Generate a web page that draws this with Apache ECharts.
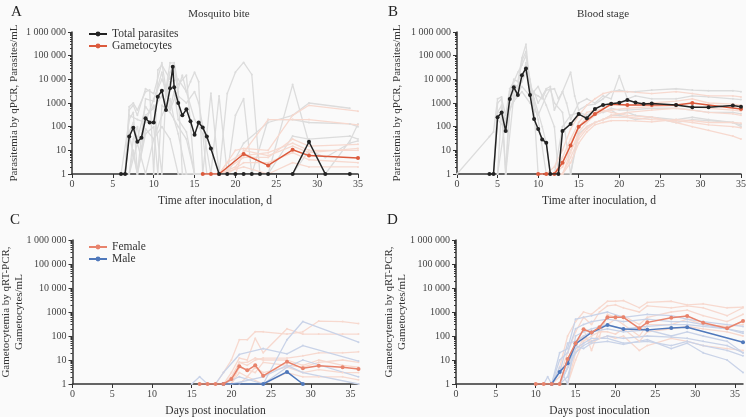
<!DOCTYPE html>
<html lang="en">
<head>
<meta charset="UTF-8">
<title>Parasitemia and gametocytemia</title>
<script src="https://cdn.jsdelivr.net/npm/echarts@6/dist/echarts.min.js"></script>
<style>
  html, body { margin:0; padding:0; background:#fafafa; }
  #chart { width:746px; height:417px; }
</style>
</head>
<body>
<div id="chart"></div>
<script>
// ---- panel A: mosquito bite ----
var aTotDays = [6,6.5,7,7.5,8,8.5,9,9.5,10,10.5,11,11.5,12,12.33,12.5,13,13.5,14,14.5,15,15.5,16,16.5,17,18,19,20,21,22,23,24,27,29,31,34];
var aTotVals = [1,1,38,90,23,34,225,150,150,1850,3300,500,4200,34000,4600,1000,300,540,170,45,150,93,38,12,1,1,1,1,1,1,1,1,23,1,1];
var aGamDays = [16,17,18,21,24,27,29,35];
var aGamVals = [1,1,1,7,2.3,10.5,6,4.8];
var aGrayLines = [
  [[6.5,1],[7,500],[7.5,800],[8,300],[9,4000],[10,2500],[11,50000],[11.5,4000],[12,50000],[12.5,50000],[13,6000],[14,15000],[15,1],[16,1]],
  [[6.5,1],[7,700],[7.5,1000],[8,500],[9,3000],[9.5,3500],[10,1],[10.5,25000],[11,40000],[12,10000],[12.5,30000],[13,3000],[13.5,1],[14,1]],
  [[6,1],[7,200],[7.5,400],[8,1],[9,1500],[10,1200],[10.5,5000],[11,20000],[11.5,2000],[12,8000],[13,10000],[14,3000],[14.5,8000],[15,20000],[15.5,8000],[16,1],[17,2600],[18,1],[19,2500],[20,20000],[21,52000],[22,16000],[23,1],[24,1]],
  [[6.5,1],[7,60],[7.5,150],[8,30],[9,700],[9.5,400],[10,800],[11,1],[11.5,3000],[12,20000],[12.5,40000],[13,2000],[14,1000],[15,3000],[15.5,1000],[16,100],[17,1],[19,1],[20,300],[21,1500],[22,1],[24,1],[27,6000],[29,20],[31,1],[34,1]],
  [[7,1],[7.5,30],[8,100],[8.5,10],[9,300],[10,600],[11,2000],[12,500],[13,4000],[13.5,15000],[14,3000],[15,200],[16,50],[16.5,1],[17,1]],
  [[6.5,1],[7,300],[8,200],[9,150],[10,1500],[11,10000],[11.5,4000],[12,600],[12.5,3000],[13,200],[14,60],[15,1],[17,1],[18,2000],[19,1],[22,1],[24,200],[27,200],[29,150],[34,130],[35,100]],
  [[6.5,1],[7,50],[8,1],[9,50],[10,100],[10.5,1],[11,800],[12,400],[13,100],[14,30],[15,1],[19,1],[21,20],[24,150],[27,300],[29,1000],[34,600]],
  [[7,1],[8,20],[9,1],[10,30],[11,300],[12,1500],[12.5,200],[13,50],[14,1],[24,1],[27,40],[29,30],[34,40],[35,30]],
  [[7,1],[7.5,10],[8,1],[9,80],[10,30],[11,100],[12,30],[13,1],[27,1],[29,10],[31,5],[34,20],[35,25]],
  [[31,1],[34,25],[35,130]]
];
var aPinkLines = [
  [[18,1],[19,3],[21,8],[24,200],[27,200],[29,200],[35,120]],
  [[18,1],[20,10],[21,12],[24,10],[27,300],[29,800],[35,450]],
  [[18,1],[21,5],[24,5],[27,30],[29,15],[35,18]],
  [[19,1],[21,3],[24,3],[27,8],[29,4],[35,3]],
  [[18,1],[20,2],[21,6],[24,8],[27,20],[29,10],[35,10]],
  [[18,1],[21,2],[24,1],[27,3],[29,2],[35,2]],
  [[20,1],[21,10],[24,6],[27,15],[29,8],[35,12]]
];

// ---- panel B: blood stage ----
var bTotDays = [4,4.5,5,5.5,6,6.5,7,7.5,8,8.5,9,9.5,10,10.5,11,11.5,12.5,13,14,15,16,17,18,19,20,21,22,23,24,27,29,31,34,35];
var bTotVals = [1,1,250,400,65,1480,4600,2200,15000,29000,2200,210,80,29,21,1,1,65,130,340,225,560,830,930,1030,1340,1050,900,950,830,660,660,780,700];
var bGamDays = [10,11,12,13,14,15,17,19,21,24,27,29,35];
var bGamVals = [1,1,1,3,16,100,340,900,830,830,830,1000,560];
var bGrayLines = [
  [[0,1],[4,38],[4.5,60],[5,1500],[5.5,1800],[6,1],[6.5,2000],[7,10000],[7.5,8000],[8,80000],[8.5,300000],[9,5000],[9.5,500],[10,1],[10.5,1]],
  [[4.5,1],[5,1000],[5.5,1500],[6,300],[6.5,4000],[7,8000],[7.5,20000],[8,40000],[8.5,100000],[9,10000],[9.5,1000],[10,200],[11,1]],
  [[4.5,1],[5,400],[5.5,800],[6,150],[6.5,3000],[7,6000],[7.5,5000],[8,60000],[8.5,150000],[9,4000],[9.5,3000],[10,1000],[11,4000],[11.5,5000],[12,500],[13,3000],[14,20000],[14.5,2000],[15,500],[16,800],[17,900],[18,1500],[19,3000],[20,3500],[21,3000],[22,3000],[24,3500],[27,4000],[29,3500],[31,3300],[34,3300],[35,3000]],
  [[4.5,1],[5,200],[6,80],[6.5,1000],[7,3000],[8,10000],[8.5,50000],[9,3000],[10,2000],[10.5,1500],[11,3500],[12,4000],[12.5,1500],[13,3000],[13.5,1000],[14,200],[15,1000],[16,1500],[17,1000],[18,2000],[19,1500],[20,14000],[21,1500],[22,2000],[24,1500],[27,1500],[29,2000],[31,1800],[34,1500],[35,1400]],
  [[5,1],[5.5,600],[6,1],[7,2000],[8,8000],[8.5,20000],[9,8000],[9.5,1500],[10,400],[10.5,100],[11,20],[11.5,1],[12,1],[13,100],[14,300],[15,400],[16,300],[17,500],[18,400],[19,500],[20,300],[21,400],[22,300],[24,250],[27,200],[29,250],[31,200],[34,150],[35,120]],
  [[5,1],[6,200],[7,1500],[8,5000],[9,2000],[10,5000],[10.5,2000],[11,800],[12,100],[12.5,1],[14,1],[15,50],[16,100],[17,150],[18,200],[19,300],[20,300],[21,250],[22,200],[24,250],[27,150],[29,200],[31,180],[34,150],[35,100]],
  [[6,1],[6.5,500],[7,1200],[8,3000],[9,1000],[10,300],[11,2000],[11.5,4000],[12,1000],[13,400],[14,1],[15,100],[17,300],[19,600],[20,500],[21,500],[24,600],[27,600],[29,500],[31,400],[34,400],[35,350]]
];
var bPinkLines = [
  [[11,1],[12,2],[13,10],[14,80],[15,300],[16,800],[17,1500],[18,2500],[19,3000],[21,3000],[24,2500],[27,3000],[29,2500],[31,2000],[34,2000],[35,1800]],
  [[11,1],[12,1],[13,3],[14,20],[15,100],[16,250],[17,400],[18,600],[19,800],[21,800],[24,1000],[27,1200],[29,1500],[31,1000],[34,900],[35,800]],
  [[12,1],[13,2],[14,10],[15,40],[16,100],[17,150],[18,200],[19,250],[21,250],[24,200],[27,180],[29,150],[31,120],[34,100],[35,90]],
  [[12,1],[13,5],[14,30],[15,150],[16,400],[17,500],[18,500],[19,400],[21,300],[24,250],[27,150],[29,100],[31,70],[34,40],[35,30]],
  [[11,1],[13,1],[14,5],[15,30],[16,80],[17,150],[18,200],[19,300],[21,400],[24,500],[27,600],[29,500],[31,400],[34,350],[35,300]],
  [[12,1],[13,1],[14,8],[15,60],[16,150],[17,300],[18,450],[19,500],[21,600],[24,700],[27,800],[29,700],[31,600],[34,500],[35,450]],
  [[12,1],[13,1],[14,3],[15,20],[16,60],[17,120],[18,150],[19,180],[21,180],[24,160],[27,200],[29,180],[31,150],[34,150],[35,140]]
];

// ---- panel C: gametocytes after mosquito bite ----
var cFemDays = [16,17,18,19,20,21,22,23,24,27,29,31,34,36];
var cFemVals = [1,1,1,1,1.6,5.5,3.7,6,2.2,8.5,4.5,5.8,5,4.2];
var cMaleDays = [19,24,27,29];
var cMaleVals = [1,1,3.2,1];
var cPinkLines = [
  [[18,1],[19,3],[20,10],[21,70],[22,70],[23,150],[24,150],[27,120],[29,150],[31,420],[34,400],[36,330]],
  [[19,1],[20,3],[21,12],[22,10],[23,80],[24,20],[27,200],[29,120],[31,120],[34,120],[36,120]],
  [[19,1],[20,2],[21,8],[22,6],[23,10],[24,12],[27,12],[29,15],[31,20],[34,20],[36,22]],
  [[19,1],[20,1],[21,5],[22,4],[23,3],[24,8],[27,6],[29,5],[31,8],[34,10],[36,8]],
  [[20,1],[21,3],[22,2],[23,5],[24,3],[27,5],[29,3],[31,4],[34,3],[36,3]],
  [[20,1],[21,8],[22,8],[23,12],[24,10],[27,10],[29,6],[31,10],[34,6],[36,5]],
  [[21,1],[22,2],[24,1],[27,3],[29,2],[31,2],[34,2],[36,1.5]]
];
var cBlueLines = [
  [[15,1],[16,2],[17,1]],
  [[18,1],[19,3],[21,17],[24,30],[27,18],[29,40],[36,9]],
  [[24,1],[27,70],[29,400],[36,55]],
  [[19,1],[21,2],[24,1],[27,5],[29,10],[36,2]],
  [[20,1],[24,2],[27,6],[29,3],[36,1]]
];

// ---- panel D: gametocytes after blood stage ----
var dFemDays = [10,11,12,13,14,15,16,17,18,19,20,21,23,24,27,29,31,34,36];
var dFemVals = [1,1,1,1,11,50,190,140,230,600,600,600,210,370,580,680,360,210,420];
var dMaleDays = [12,13,14,15,17,19,21,24,27,29,36];
var dMaleVals = [1,3.2,7.3,47,140,290,195,180,215,230,55];
var dPinkLines = [
  [[12,1],[13,5],[14,100],[15,400],[16,1000],[17,800],[18,1500],[19,2800],[20,2800],[21,3000],[23,1500],[24,2500],[27,2800],[29,2000],[31,2200],[34,1500],[36,1600]],
  [[12,1],[13,2],[14,20],[15,150],[16,600],[17,300],[18,1000],[19,1800],[20,2000],[21,1500],[23,1000],[24,1800],[27,1500],[29,1800],[31,1500],[34,700],[36,1500]],
  [[13,1],[14,5],[15,50],[16,100],[17,50],[18,80],[19,100],[20,80],[21,100],[23,25],[24,40],[27,80],[29,60],[31,40],[34,30],[36,25]],
  [[13,1],[14,10],[15,40],[16,200],[17,25],[18,200],[19,300],[20,500],[21,300],[23,100],[24,300],[27,300],[29,500],[31,300],[34,250],[36,300]],
  [[14,1],[15,10],[16,60],[17,100],[18,150],[19,150],[20,120],[21,200],[23,60],[24,150],[27,200],[29,250],[31,200],[34,150],[36,100]],
  [[14,1],[15,20],[16,80],[17,60],[18,100],[19,800],[20,600],[21,700],[23,300],[24,600],[27,1000],[29,1200],[31,700],[34,400],[36,800]]
];
var dBlueLines = [
  [[11,1],[11.5,2],[12,1],[13,20],[14,30],[15,500],[16,600],[17,700],[19,1000],[21,600],[24,800],[27,700],[29,500],[31,400],[34,300],[36,250]],
  [[12,1],[13,10],[14,20],[15,200],[16,300],[17,400],[19,500],[21,400],[24,500],[27,400],[29,400],[31,300],[34,200],[36,150]],
  [[12,1],[13,5],[14,1],[15,100],[16,150],[17,200],[19,300],[21,200],[24,250],[27,300],[29,300],[31,250],[34,200],[36,130]],
  [[13,1],[14,2],[15,30],[16,50],[17,80],[19,80],[21,50],[24,60],[27,40],[29,60],[31,40],[34,25],[36,15]],
  [[13,1],[14,5],[15,40],[16,30],[17,50],[19,60],[21,45],[24,70],[27,30],[29,50],[31,20],[34,10],[36,3]],
  [[12,1],[13,3],[14,50],[15,60],[16,100],[17,150],[19,200],[21,150],[24,180],[27,100],[29,150],[31,100],[34,60],[36,20]],
  [[13,1],[15,20],[16,40],[17,60],[19,100],[21,80],[24,100],[27,90],[29,80],[31,60],[34,40],[36,20]]
];

var FONT = '"Liberation Serif", "DejaVu Serif", serif';
var GRAY = '#dcdcdc', PINK = '#f7d9cf', LBLUE = '#c9d3e8';
var BLACK = '#222222', RED = '#dc5a3c', FEM = '#e8836c', MALE = '#4f78bb';

function zip(d, v) { return d.map(function (x, i) { return [x, v[i]]; }); }

function yLabel(v) {
  if (v < 10000) return String(v);
  return String(v).replace(/\B(?=(\d{3})+(?!\d))/g, ' ');
}

function bg(lines, color, idx) {
  return lines.map(function (pts) {
    return {
      type: 'line', xAxisIndex: idx, yAxisIndex: idx, data: pts,
      symbol: 'circle', symbolSize: 2, silent: true, z: 1,
      itemStyle: { color: color },
      lineStyle: { color: color, width: 1.3 }
    };
  });
}

function main(name, d, v, color, idx, z) {
  return {
    name: name, type: 'line', xAxisIndex: idx, yAxisIndex: idx,
    data: zip(d, v), symbol: 'circle', symbolSize: 4, z: z,
    itemStyle: { color: color }, lineStyle: { color: color, width: 1.5 }
  };
}

var grids = [
  { left: 72, top: 32, width: 286, height: 142, outerBoundsMode: 'none' },
  { left: 457, top: 32, width: 284, height: 142, outerBoundsMode: 'none' },
  { left: 72.5, top: 240, width: 286, height: 144, outerBoundsMode: 'none' },
  { left: 456, top: 240, width: 287, height: 144, outerBoundsMode: 'none' }
];

function xAx(idx, max, name) {
  return {
    type: 'value', gridIndex: idx, min: 0, max: max, interval: 5,
    name: name, nameLocation: 'middle', nameGap: 21, nameMoveOverlap: false,
    nameTextStyle: { fontFamily: FONT, fontSize: 11.5, color: '#333' },
    axisLine: { show: true, lineStyle: { color: '#333', width: 1.5 } },
    axisTick: { show: true, length: 4, lineStyle: { color: '#333' } },
    axisLabel: { fontFamily: FONT, fontSize: 10, color: '#444', margin: 5, hideOverlap: false },
    splitLine: { show: false }
  };
}

function yAx(idx, name, gap) {
  return {
    type: 'log', logBase: 10, gridIndex: idx, min: 1, max: 1000000,
    name: name, nameLocation: 'middle', nameGap: gap, nameRotate: 90, nameMoveOverlap: false,
    nameTextStyle: { fontFamily: FONT, fontSize: 11, color: '#333', lineHeight: 13 },
    axisLine: { show: true, lineStyle: { color: '#333', width: 1.5 } },
    axisTick: { show: true, length: 4, lineStyle: { color: '#333' } },
    minorTick: { show: true, splitNumber: 9, length: 2, lineStyle: { color: '#333' } },
    axisLabel: { fontFamily: FONT, fontSize: 10, color: '#444', margin: 6, formatter: yLabel },
    splitLine: { show: false }
  };
}

var series = []
  .concat(bg(aGrayLines, GRAY, 0), bg(aPinkLines, PINK, 0))
  .concat([main('Gametocytes', aGamDays, aGamVals, RED, 0, 5), main('Total parasites', aTotDays, aTotVals, BLACK, 0, 6)])
  .concat(bg(bGrayLines, GRAY, 1), bg(bPinkLines, PINK, 1))
  .concat([main('Gametocytes', bGamDays, bGamVals, RED, 1, 5), main('Total parasites', bTotDays, bTotVals, BLACK, 1, 6)])
  .concat(bg(cPinkLines, PINK, 2), bg(cBlueLines, LBLUE, 2))
  .concat([main('Male', cMaleDays, cMaleVals, MALE, 2, 5), main('Female', cFemDays, cFemVals, FEM, 2, 6)])
  .concat(bg(dPinkLines, PINK, 3), bg(dBlueLines, LBLUE, 3))
  .concat([main('Male', dMaleDays, dMaleVals, MALE, 3, 5), main('Female', dFemDays, dFemVals, FEM, 3, 6)]);

var panelLabel = { fontFamily: FONT, fontSize: 15, fontWeight: 'normal', color: '#222' };
var panelTitle = { fontFamily: FONT, fontSize: 11, fontWeight: 'normal', color: '#333' };
var legendText = { fontFamily: FONT, fontSize: 11.5, color: '#333', lineHeight: 12 };

var chart = echarts.init(document.getElementById('chart'));
chart.setOption({
  backgroundColor: '#fafafa',
  animation: false,
  title: [
    { text: 'A', left: 6, top: 0, textStyle: panelLabel },
    { text: 'B', left: 383, top: 0, textStyle: panelLabel },
    { text: 'C', left: 5, top: 208, textStyle: panelLabel },
    { text: 'D', left: 382, top: 208, textStyle: panelLabel },
    { text: 'Mosquito bite', left: 214, textAlign: 'center', top: 4, textStyle: panelTitle },
    { text: 'Blood stage', left: 598, textAlign: 'center', top: 4, textStyle: panelTitle }
  ],
  legend: [
    { data: ['Total parasites', 'Gametocytes'], orient: 'vertical', left: 83, top: 23, itemGap: 0,
      itemWidth: 18, itemHeight: 6, textStyle: legendText },
    { data: ['Female', 'Male'], orient: 'vertical', left: 83, top: 236, itemGap: 0,
      itemWidth: 18, itemHeight: 6, textStyle: legendText }
  ],
  grid: grids,
  xAxis: [
    xAx(0, 35, 'Time after inoculation, d'),
    xAx(1, 35, 'Time after inoculation, d'),
    xAx(2, 36, 'Days post inoculation'),
    xAx(3, 36, 'Days post inoculation')
  ],
  yAxis: [
    yAx(0, 'Parasitemia by qPCR, Parasites/mL', 51),
    yAx(1, 'Parasitemia by qPCR, Parasites/mL', 53),
    yAx(2, 'Gametocytemia by qRT-PCR,\nGametocytes/mL', 46.5),
    yAx(3, 'Gametocytemia by qRT-PCR,\nGametocytes/mL', 47)
  ],
  series: series
});
</script>
</body>
</html>
